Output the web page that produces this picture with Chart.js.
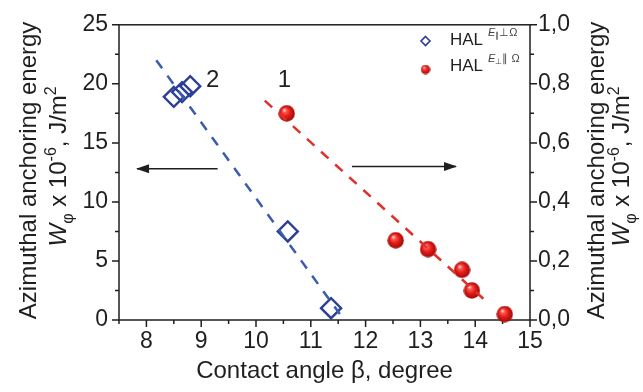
<!DOCTYPE html>
<html>
<head>
<meta charset="utf-8">
<script src="https://cdn.jsdelivr.net/npm/chart.js@4/dist/chart.umd.min.js"></script>
<style>
  html, body { margin: 0; padding: 0; background: #fff; }
  #wrap { width: 643px; height: 392px; position: relative; }
</style>
</head>
<body>
<div id="wrap"><canvas id="chart"></canvas></div>
<script>
// HAL, E-parallel-perp-Omega: contact angle (deg) vs. W (x10^-6 J/m^2), left axis
const anglePerp = [8.5, 8.65, 8.8, 10.58, 11.37];
const energyPerp = [18.9, 19.3, 19.8, 7.5, 1.0];
// HAL, E-perp-parallel-Omega: contact angle (deg) vs. W (x10^-6 J/m^2), right axis
const anglePar = [10.56, 12.55, 13.14, 13.76, 13.94, 14.54];
const energyPar = [0.70, 0.27, 0.24, 0.17, 0.10, 0.02];
// linear fits (end points)
const fitPerpX = [8.18, 11.53];
const fitPerpY = [22.0, 0.5];
const fitParX = [10.16, 14.22];
const fitParY = [0.743, 0.06];
// axis ticks
const xTicks = [8, 9, 10, 11, 12, 13, 14, 15];
const leftTicks = [0, 5, 10, 15, 20, 25];
const rightTicks = [0, 0.2, 0.4, 0.6, 0.8, 1.0];

const FONT = "'Liberation Sans', Arial, Helvetica, sans-serif";
const INK = '#1f1f1f';
const BLUE = '#2c3f95';
const BLUE_LINE = '#3a5bb0';
const RED_LINE = '#e0302a';

Chart.defaults.font.family = FONT;
Chart.defaults.color = INK;

// shaded red sphere used as point marker
function makeBall(d) {
  const c = document.createElement('canvas');
  c.width = d; c.height = d;
  const g = c.getContext('2d');
  const r = d / 2;
  const grad = g.createRadialGradient(r * 0.7, r * 0.6, r * 0.05, r, r, r);
  grad.addColorStop(0, '#ffe4e4');
  grad.addColorStop(0.18, '#ff5a52');
  grad.addColorStop(0.55, '#e01a16');
  grad.addColorStop(1, '#9a0a08');
  g.fillStyle = grad;
  g.beginPath();
  g.arc(r, r, r - 0.3, 0, Math.PI * 2);
  g.fill();
  return c;
}
const ball = makeBall(17);
const ballSmall = makeBall(10);

const pairs = (xs, ys) => xs.map((x, i) => ({ x, y: ys[i] }));
const setTicks = (vals) => (scale) => { scale.ticks = vals.map(v => ({ value: v })); };

// draw a run of text pieces (normal / sub / superscript) centred on (0,0) baseline
function richText(ctx, parts) {
  let total = 0;
  parts.forEach(p => {
    ctx.font = (p.style || '') + ' ' + p.size + 'px ' + FONT;
    p.w = ctx.measureText(p.t).width;
    total += p.w;
  });
  let x = -total / 2;
  parts.forEach(p => {
    ctx.font = (p.style || '') + ' ' + p.size + 'px ' + FONT;
    ctx.fillText(p.t, x, p.dy || 0);
    x += p.w;
  });
}

function titleLines() {
  return [
    [{ t: 'Azimuthal anchoring energy', size: 24 }],
    [
      { t: 'W', size: 24, style: 'italic' },
      { t: 'φ', size: 16, dy: 7 },
      { t: ' x 10', size: 24 },
      { t: '-6', size: 16, dy: -10 },
      { t: ', J/m', size: 24 },
      { t: '2', size: 16, dy: -10 }
    ]
  ];
}

const decor = {
  id: 'decor',
  beforeDatasetsDraw(chart) {
    const { ctx, chartArea: a, scales } = chart;
    const { x, y, y2 } = scales;
    ctx.save();
    ctx.strokeStyle = INK;
    ctx.lineWidth = 1.5;
    ctx.strokeRect(a.left, a.top, a.right - a.left, a.bottom - a.top);
    ctx.beginPath();
    // x ticks (outward, below)
    for (let v = 7.5; v <= 15.001; v += 0.5) {
      const px = x.getPixelForValue(v);
      const len = Number.isInteger(Math.round(v * 100) / 100) ? 7 : 4;
      ctx.moveTo(px, a.bottom); ctx.lineTo(px, a.bottom + len);
    }
    // left ticks
    for (let v = 0; v <= 25.001; v += 2.5) {
      const py = y.getPixelForValue(v);
      const len = (Math.round(v * 10) % 50 === 0) ? 7 : 4;
      ctx.moveTo(a.left, py); ctx.lineTo(a.left - len, py);
    }
    // right ticks
    for (let i = 0; i <= 10; i++) {
      const py = y2.getPixelForValue(i / 10);
      const len = i % 2 === 0 ? 7 : 4;
      ctx.moveTo(a.right, py); ctx.lineTo(a.right + len, py);
    }
    ctx.stroke();
    ctx.restore();
  },
  afterDraw(chart) {
    const { ctx, chartArea: a, scales } = chart;
    const { x, y, y2 } = scales;
    ctx.save();
    ctx.fillStyle = INK;
    ctx.textBaseline = 'alphabetic';

    // rotated axis titles, both sides
    const lines = titleLines();
    const midY = (a.top + a.bottom) / 2;
    [[36, 66], [604, 629]].forEach(([b1, b2]) => {
      [[b1, lines[0], -2], [b2, lines[1], -6]].forEach(([bx, parts, off]) => {
        ctx.save();
        ctx.translate(bx, midY + off);
        ctx.rotate(-Math.PI / 2);
        richText(ctx, parts);
        ctx.restore();
      });
    });

    // series labels
    ctx.font = '24px ' + FONT;
    ctx.textAlign = 'center';
    ctx.textBaseline = 'middle';
    ctx.fillText('2', x.getPixelForValue(9.21), y.getPixelForValue(20.3));
    ctx.fillText('1', x.getPixelForValue(10.52), y.getPixelForValue(20.3));

    // arrows pointing to the axis each series belongs to
    const arrow = (x0, x1, py) => {
      ctx.strokeStyle = INK;
      ctx.lineWidth = 1.5;
      ctx.beginPath();
      ctx.moveTo(x0, py); ctx.lineTo(x1, py);
      ctx.stroke();
      const dir = Math.sign(x1 - x0);
      ctx.beginPath();
      ctx.moveTo(x1 + dir, py);
      ctx.lineTo(x1 - dir * 12, py - 4.5);
      ctx.lineTo(x1 - dir * 12, py + 4.5);
      ctx.closePath();
      ctx.fill();
    };
    arrow(x.getPixelForValue(9.3), x.getPixelForValue(7.83), y.getPixelForValue(12.8));
    arrow(x.getPixelForValue(11.75), x.getPixelForValue(13.65), y2.getPixelForValue(0.52));

    // legend
    ctx.textAlign = 'left';
    ctx.textBaseline = 'alphabetic';
    const lx = 425.5;
    ctx.strokeStyle = BLUE;
    ctx.lineWidth = 1.6;
    ctx.beginPath();
    ctx.moveTo(lx, 36.5); ctx.lineTo(lx + 4.5, 41); ctx.lineTo(lx, 45.5); ctx.lineTo(lx - 4.5, 41);
    ctx.closePath();
    ctx.stroke();
    ctx.drawImage(ballSmall, lx - 5, 64.5, 10, 10);

    const legendRow = (base, supParts) => {
      ctx.fillStyle = INK;
      ctx.font = '17px ' + FONT;
      ctx.fillText('HAL', 450, base);
      let sx = 488;
      ctx.fillStyle = '#444';
      supParts.forEach(p => {
        ctx.font = (p.style || '') + ' ' + p.size + 'px ' + FONT;
        ctx.fillText(p.t, sx, base - 9 + (p.dy || 0));
        sx += ctx.measureText(p.t).width;
      });
    };
    legendRow(45, [
      { t: 'E', size: 11, style: 'italic' },
      { t: '∥', size: 8, dy: 2 },
      { t: '⊥Ω', size: 11 }
    ]);
    legendRow(71, [
      { t: 'E', size: 11, style: 'italic' },
      { t: '⊥', size: 8, dy: 2 },
      { t: '∥ Ω', size: 11 }
    ]);

    // bottom title
    ctx.fillStyle = INK;
    ctx.font = '24px ' + FONT;
    ctx.textAlign = 'center';
    ctx.fillText('Contact angle β, degree', (a.left + a.right) / 2, 378);
    ctx.restore();
  }
};

new Chart(document.getElementById('chart'), {
  type: 'scatter',
  data: {
    datasets: [
      {
        label: 'fit 2',
        data: pairs(fitPerpX, fitPerpY),
        showLine: true,
        borderColor: BLUE_LINE,
        borderWidth: 2.5,
        borderDash: [10, 9],
        pointRadius: 0,
        yAxisID: 'y'
      },
      {
        label: 'fit 1',
        data: pairs(fitParX, fitParY),
        showLine: true,
        borderColor: RED_LINE,
        borderWidth: 2.5,
        borderDash: [10, 9],
        pointRadius: 0,
        yAxisID: 'y2'
      },
      {
        label: 'HAL E∥⊥Ω',
        data: pairs(anglePerp, energyPerp),
        pointStyle: 'rectRot',
        pointRadius: 10,
        borderColor: BLUE,
        borderWidth: 2.4,
        backgroundColor: 'rgba(0,0,0,0)',
        yAxisID: 'y',
        clip: false
      },
      {
        label: 'HAL E⊥∥Ω',
        data: pairs(anglePar, energyPar),
        pointStyle: ball,
        pointRadius: 8.5,
        yAxisID: 'y2',
        clip: false
      }
    ]
  },
  options: {
    responsive: true,
    maintainAspectRatio: false,
    animation: false,
    events: [],
    layout: { padding: { top: 19, left: 0, right: 0, bottom: 0 } },
    plugins: { legend: { display: false }, tooltip: { enabled: false } },
    scales: {
      x: {
        type: 'linear',
        min: 7.5, max: 15,
        afterBuildTicks: setTicks(xTicks),
        afterFit: (s) => { s.height = 72; },
        grid: { display: false, drawTicks: false },
        border: { display: false },
        ticks: { font: { size: 23 }, color: INK, padding: 8, maxRotation: 0 }
      },
      y: {
        position: 'left',
        min: 0, max: 25,
        afterBuildTicks: setTicks(leftTicks),
        afterFit: (s) => { s.width = 119; },
        grid: { display: false, drawTicks: false },
        border: { display: false },
        ticks: { font: { size: 23 }, color: INK, padding: 11 }
      },
      y2: {
        position: 'right',
        min: 0, max: 1,
        afterBuildTicks: setTicks(rightTicks),
        afterFit: (s) => { s.width = 113; },
        grid: { display: false, drawTicks: false },
        border: { display: false },
        ticks: {
          font: { size: 23 }, color: INK, padding: 8,
          callback: (v) => v.toFixed(1).replace('.', ',')
        }
      }
    }
  },
  plugins: [decor]
});
</script>
</body>
</html>
